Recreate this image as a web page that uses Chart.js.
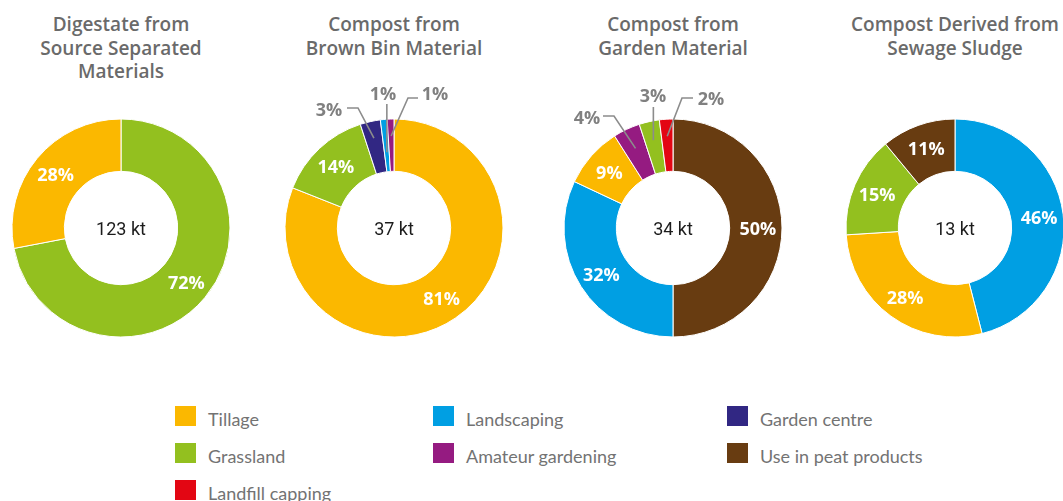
<!DOCTYPE html>
<html>
<head>
<meta charset="utf-8">
<script src="https://cdn.jsdelivr.net/npm/chart.js@4.4.1/dist/chart.umd.min.js"></script>
<style>
  html, body { margin:0; padding:0; background:#fff; width:1063px; height:501px; overflow:hidden; }
  .wrap { position:relative; width:1063px; height:501px; overflow:hidden; }
  canvas.donut { position:absolute; }
  .title { position:absolute; top:13px; width:260px; text-align:center; font-family:"Open Sans", sans-serif;
           font-weight:600; font-size:19px; line-height:23.5px; color:#6a6a6a; white-space:nowrap; }
  .legend { position:absolute; left:175px; top:406px; display:grid;
            grid-template-rows:repeat(3, 37px); grid-template-columns:258px 294px 250px; }
  .item { display:flex; align-items:flex-start; }
  .sw { width:21px; height:20px; flex:none; }
  .lt { margin-left:12px; font-family:Lato, "Open Sans", sans-serif; font-size:18px; line-height:20px;
        color:#737373; position:relative; top:3px; white-space:nowrap; }
</style>
</head>
<body>
<div class="wrap" id="wrap"></div>
<script>
// ---------- data ----------
const categories = ['Tillage', 'Grassland', 'Landfill capping', 'Landscaping', 'Amateur gardening', 'Garden centre', 'Use in peat products'];
const categoryColors = ['#FBB800', '#93C01F', '#E30613', '#009FE3', '#951B81', '#312783', '#683C11'];

const chartTitles = [
  ['Digestate from', 'Source Separated', 'Materials'],
  ['Compost from', 'Brown Bin Material'],
  ['Compost from', 'Garden Material'],
  ['Compost Derived from', 'Sewage Sludge']
];
const totals = ['123 kt', '37 kt', '34 kt', '13 kt'];

const digestateLabels = ['Grassland', 'Tillage'];
const digestateValues = [72, 28];

const brownBinLabels = ['Tillage', 'Grassland', 'Garden centre', 'Landscaping', 'Amateur gardening'];
const brownBinValues = [81, 14, 3, 1, 1];

const gardenLabels = ['Use in peat products', 'Landscaping', 'Tillage', 'Amateur gardening', 'Grassland', 'Landfill capping'];
const gardenValues = [50, 32, 9, 4, 3, 2];

const sludgeLabels = ['Landscaping', 'Tillage', 'Grassland', 'Use in peat products'];
const sludgeValues = [46, 28, 15, 11];

// ---------- layout / style (not data) ----------
const centersX = [121, 394, 673, 955];
const centerY = 228;
const RADIUS = 109;
const CW = 280, CH = 320;
const legendCol = [0, 0, 0, 1, 1, 2, 2];
const legendRow = [0, 1, 2, 0, 1, 0, 1];

// outside label placement (relative to donut centre), keyed by slice index
const outsideLabels = [
  {},
  {
    2: { text: [-65, -117], start: [-47, -120], elbow: [-36, -120], r: 92 },
    3: { text: [-11, -133], vertical: -124, r: 76 },
    4: { text: [41, -133], start: [24, -130], elbow: [14, -130], r: 92 }
  },
  {
    3: { text: [-86, -109], start: [-70, -112], elbow: [-59, -112], r: 88 },
    4: { text: [-20, -131], vertical: -121, r: 90 },
    5: { text: [38, -128], start: [20, -130], elbow: [9, -130], r: 92 }
  },
  {}
];

const sliceLabelPlugin = {
  id: 'sliceLabels',
  afterDatasetsDraw(chart, args, opts) {
    const ctx = chart.ctx;
    const meta = chart.getDatasetMeta(0);
    const ds = chart.data.datasets[0];
    const outside = opts.outside || {};
    let cx = 0, cy = 0;
    meta.data.forEach((arc, i) => {
      const p = arc.getProps(['x', 'y', 'startAngle', 'endAngle', 'innerRadius', 'outerRadius'], true);
      cx = p.x; cy = p.y;
      const mid = (p.startAngle + p.endAngle) / 2;
      const text = ds.data[i] + '%';
      ctx.save();
      ctx.font = '700 18px "Open Sans"';
      ctx.textAlign = 'center';
      ctx.textBaseline = 'middle';
      const o = outside[i];
      if (!o) {
        const r = (p.innerRadius + p.outerRadius) / 2 + 2;
        ctx.fillStyle = '#ffffff';
        ctx.fillText(text, p.x + Math.cos(mid) * r, p.y + Math.sin(mid) * r + 2);
      } else {
        const ex = p.x + Math.cos(mid) * o.r;
        const ey = p.y + Math.sin(mid) * o.r;
        ctx.strokeStyle = '#8c8c8c';
        ctx.lineWidth = 1.6;
        ctx.beginPath();
        if (o.vertical !== undefined) {
          ctx.moveTo(ex, p.y + o.vertical);
          ctx.lineTo(ex, ey);
        } else {
          ctx.moveTo(p.x + o.start[0], p.y + o.start[1]);
          ctx.lineTo(p.x + o.elbow[0], p.y + o.elbow[1]);
          ctx.lineTo(ex, ey);
        }
        ctx.stroke();
        ctx.fillStyle = '#808080';
        ctx.fillText(text, p.x + o.text[0], p.y + o.text[1]);
      }
      ctx.restore();
    });
    ctx.save();
    ctx.font = '400 18px Roboto';
    ctx.fillStyle = '#1c1c1c';
    ctx.textAlign = 'center';
    ctx.textBaseline = 'middle';
    ctx.fillText(opts.center, cx, cy + 2);
    ctx.restore();
  }
};

const chartDefs = [
  { labels: digestateLabels, values: digestateValues },
  { labels: brownBinLabels, values: brownBinValues },
  { labels: gardenLabels, values: gardenValues },
  { labels: sludgeLabels, values: sludgeValues }
];

const wrap = document.getElementById('wrap');

chartDefs.forEach((def, k) => {
  const t = document.createElement('div');
  t.className = 'title';
  t.style.left = (centersX[k] - 130) + 'px';
  t.innerHTML = chartTitles[k].join('<br>');
  wrap.appendChild(t);

  const c = document.createElement('canvas');
  c.className = 'donut';
  c.width = CW; c.height = CH;
  c.style.width = CW + 'px'; c.style.height = CH + 'px';
  c.style.left = (centersX[k] - CW / 2) + 'px';
  c.style.top = (centerY - CH / 2) + 'px';
  wrap.appendChild(c);

  new Chart(c, {
    type: 'doughnut',
    data: {
      labels: def.labels,
      datasets: [{
        data: def.values,
        backgroundColor: def.labels.map(l => categoryColors[categories.indexOf(l)]),
        borderColor: '#ffffff',
        borderWidth: 1,
        hoverOffset: 0
      }]
    },
    options: {
      responsive: false,
      animation: false,
      radius: RADIUS,
      cutout: '52%',
      layout: { padding: 0 },
      plugins: {
        legend: { display: false },
        tooltip: { enabled: false },
        sliceLabels: { outside: outsideLabels[k], center: totals[k] }
      }
    },
    plugins: [sliceLabelPlugin]
  });
});

// legend
const lg = document.createElement('div');
lg.className = 'legend';
categories.forEach((name, i) => {
  const it = document.createElement('div');
  it.className = 'item';
  it.style.gridColumn = String(legendCol[i] + 1);
  it.style.gridRow = String(legendRow[i] + 1);
  const sw = document.createElement('span');
  sw.className = 'sw';
  sw.style.background = categoryColors[i];
  const lt = document.createElement('span');
  lt.className = 'lt';
  lt.textContent = name;
  it.appendChild(sw); it.appendChild(lt);
  lg.appendChild(it);
});
wrap.appendChild(lg);
</script>
</body>
</html>
